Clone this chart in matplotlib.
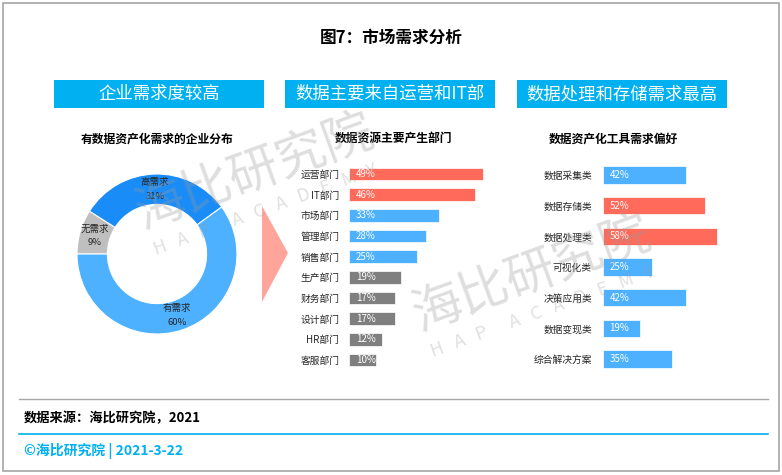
import matplotlib
matplotlib.use("Agg")
from matplotlib import pyplot as plt
from matplotlib.patches import Rectangle, Polygon
import numpy as np

plt.rcParams['font.family'] = ['Noto Sans CJK SC', 'DejaVu Sans']

# data
demand_labels = ['无需求', '高需求', '有需求']
demand_shares = [9, 31, 60]

dept_names = ['运营部门', 'IT部门', '市场部门', '管理部门', '销售部门',
              '生产部门', '财务部门', '设计部门', 'HR部门', '客服部门']
dept_values = [49, 46, 33, 28, 25, 19, 17, 17, 12, 10]

tool_names = ['数据采集类', '数据存储类', '数据处理类', '可视化类',
              '决策应用类', '数据变现类', '综合解决方案']
tool_values = [42, 52, 58, 25, 42, 19, 35]

headers = ['企业需求度较高', '数据主要来自运营和IT部', '数据处理和存储需求最高']

RED = '#FF6A5A'
BLUE = '#4DB1FF'
DARK_BLUE = '#1A8CF8'
GRAY = '#7F7F7F'
CYAN = '#00B0F0'

dept_colors = [RED] * 2 + [BLUE] * 3 + [GRAY] * 5
tool_colors = [RED if v > 50 else BLUE for v in tool_values]
demand_colors = ['#BFBFBF', DARK_BLUE, BLUE]

W, H = 782, 475
fig = plt.figure(figsize=(W / 100, H / 100), dpi=100)


def fx(x):
    return x / W


def fy(y):
    return 1 - y / H


# outer frame
fig.add_artist(Rectangle((fx(3), fy(471)), 776 / W, 468 / H, transform=fig.transFigure,
                         fill=False, edgecolor='#A6A6A6', linewidth=1.2))

fig.text(fx(391), fy(38), '图7：市场需求分析', ha='center', va='center',
         fontsize=12, fontweight='bold')

# header boxes
box_x = [54, 285, 517]
for bx, txt in zip(box_x, headers):
    fig.add_artist(Rectangle((fx(bx), fy(108)), 210 / W, 28 / H, transform=fig.transFigure,
                             facecolor=CYAN, edgecolor='none'))
    fig.text(fx(bx + 105), fy(94), txt, ha='center', va='center', fontsize=12.5, color='white')

# sub titles
fig.text(fx(157), fy(139), '有数据资产化需求的企业分布', ha='center', va='center',
         fontsize=8.5, fontweight='bold')
fig.text(fx(393), fy(139), '数据资源主要产生部门', ha='center', va='center',
         fontsize=8.5, fontweight='bold')
fig.text(fx(613), fy(139), '数据资产化工具需求偏好', ha='center', va='center',
         fontsize=8.5, fontweight='bold')

# donut
ax_d = fig.add_axes([fx(157 - 80), fy(254 + 80), 160 / W, 160 / H])
ax_d.pie(demand_shares, colors=demand_colors, startangle=180, counterclock=False,
         radius=1, wedgeprops=dict(width=0.38, edgecolor='white', linewidth=0.8))
ax_d.set_xlim(-1, 1)
ax_d.set_ylim(-1, 1)
start = 180
for lab, s in zip(demand_labels, demand_shares):
    span = s / sum(demand_shares) * 360
    mid = np.deg2rad(start - span / 2)
    start -= span
    r = 0.81
    ax_d.text(r * np.cos(mid), r * np.sin(mid), f'{lab}\n{s}%', ha='center', va='center',
              fontsize=6.8, color='#262626', linespacing=1.7)

# arrow
fig.add_artist(Polygon([(fx(262), fy(206)), (fx(288), fy(253)), (fx(262), fy(302))],
                       closed=True, transform=fig.transFigure,
                       facecolor='#FFA59B', edgecolor='none'))

# department bars
ax2 = fig.add_axes([fx(349), fy(370.3), 164 / W, 206.6 / H])
y2 = np.arange(len(dept_names))
ax2.barh(y2, dept_values, height=0.6, color=dept_colors, edgecolor='white', linewidth=0.5)
ax2.set_xlim(0, 60)
ax2.set_ylim(len(dept_names) - 0.5, -0.5)
ax2.set_yticks(y2, dept_names, fontsize=7, color='#262626')
ax2.tick_params(axis='y', length=0, pad=7)
ax2.set_xticks([])
for sp in ax2.spines.values():
    sp.set_visible(False)
ax2.patch.set_visible(False)
for i, v in enumerate(dept_values):
    ax2.annotate(f'{v}%', xy=(0, i), xytext=(5, 0), textcoords='offset points',
                 va='center', ha='left', fontsize=7, color='white')

# tool bars
ax3 = fig.add_axes([fx(603), fy(374.3), 137.6 / W, 214.6 / H])
y3 = np.arange(len(tool_names))
ax3.barh(y3, tool_values, height=0.56, color=tool_colors, edgecolor='white', linewidth=0.5)
ax3.set_xlim(0, 70)
ax3.set_ylim(len(tool_names) - 0.5, -0.5)
ax3.set_yticks(y3, tool_names, fontsize=7, color='#262626')
ax3.tick_params(axis='y', length=0, pad=8)
ax3.set_xticks([])
for sp in ax3.spines.values():
    sp.set_visible(False)
ax3.patch.set_visible(False)
for i, v in enumerate(tool_values):
    ax3.annotate(f'{v}%', xy=(0, i), xytext=(4.5, 0), textcoords='offset points',
                 va='center', ha='left', fontsize=7, color='white')

# watermarks
for cx, cy in [(532, 274), (255, 172)]:
    fig.text(fx(cx), fy(cy), '海比研究院', ha='center', va='center', rotation=20,
             rotation_mode='anchor', fontsize=36, fontweight='light',
             color='#9A9A9A', alpha=0.32, zorder=10)
    fig.text(fx(cx + 11), fy(cy + 38), 'H   A   P      A   C   A   D   E   M   Y',
             ha='center', va='center', rotation=20, rotation_mode='anchor',
             fontsize=13, fontweight='light', color='#9A9A9A', alpha=0.3, zorder=10)

# footer
fig.add_artist(plt.Line2D([fx(19), fx(768)], [fy(399), fy(399)], transform=fig.transFigure,
                          color='#A6A6A6', linewidth=1))
fig.text(fx(24), fy(418), '数据来源：海比研究院，2021', ha='left', va='center',
         fontsize=9.5, fontweight='bold')
fig.add_artist(plt.Line2D([fx(19), fx(768)], [fy(434), fy(434)], transform=fig.transFigure,
                          color=CYAN, linewidth=1.2))
fig.text(fx(24), fy(451), '©海比研究院 | 2021-3-22', ha='left', va='center',
         fontsize=10, fontweight='bold', color=CYAN)

fig.savefig('out.png', dpi=100)
